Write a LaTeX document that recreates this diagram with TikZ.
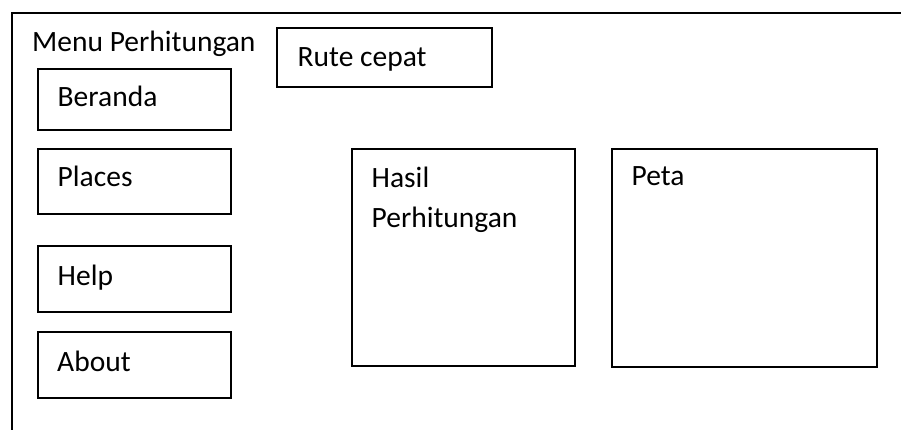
\documentclass[tikz,border=0pt]{standalone}
\usepackage{fontspec}
\setmainfont{Carlito}
\begin{document}
\begin{tikzpicture}[x=1pt,y=-1pt,
  box/.style={draw=black,line width=1.5pt,inner sep=0pt,minimum width=#1},
  lbl/.style={anchor=base west,inner sep=0pt,font=\fontsize{29.5}{35}\selectfont}]
\useasboundingbox (0,0) rectangle (901,430);
\fill[white] (0,0) rectangle (901,430);
\coordinate (fb) at (12,431);
\coordinate (fc) at (12,13);
\coordinate (fr) at (902,13);
\draw[line width=2pt] (fb) -- (fc) -- (fr);
\node[lbl] (menu) at (32,52) {Menu Perhitungan};
\node[box=193pt,minimum height=61pt] (beranda) at (134.5,99.5) {};
\node[box=193pt,minimum height=65pt] (places) at (134.5,181.5) {};
\node[box=193pt,minimum height=66pt] (help) at (134.5,279) {};
\node[box=193pt,minimum height=66pt] (about) at (134.5,365) {};
\node[box=215pt,minimum height=59pt] (rute) at (384.5,57.5) {};
\node[box=223pt,minimum height=217pt] (hasil) at (463.5,257.5) {};
\node[box=265pt,minimum height=218pt] (peta) at (744.5,258) {};
\node[lbl] (tberanda) at (57.5,107) {Beranda};
\node[lbl] (tplaces) at (57.5,187) {Places};
\node[lbl] (thelp) at (57.5,285) {Help};
\node[lbl] (tabout) at (57,371) {About};
\node[lbl] (trute) at (297.5,67) {Rute cepat};
\node[lbl] (thasil) at (371.5,188) {Hasil};
\node[lbl] (tperh) at (371.5,228) {Perhitungan};
\node[lbl] (tpeta) at (631.5,186) {Peta};
\end{tikzpicture}
\end{document}
